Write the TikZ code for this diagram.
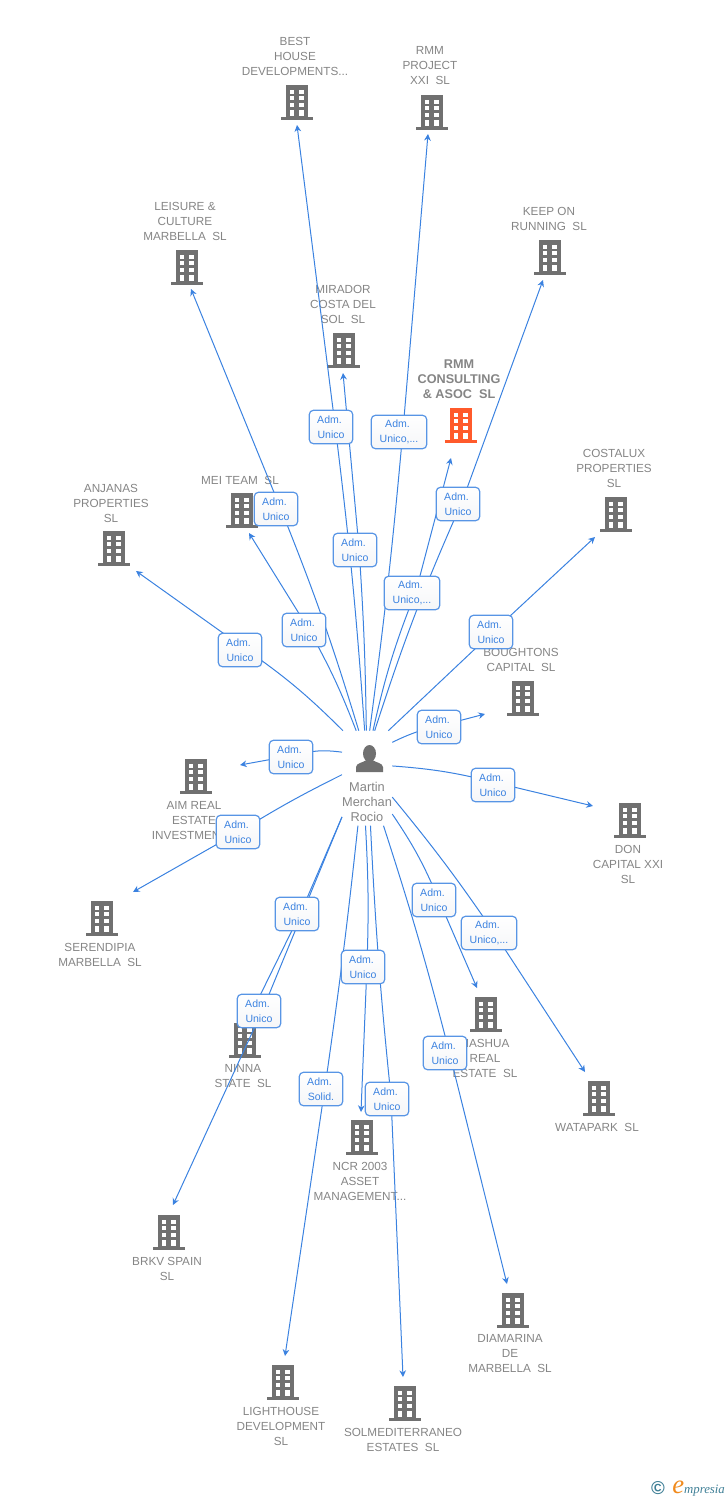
\documentclass[tikz,border=0pt]{standalone}
\usepackage{fontspec}
\setmainfont{Liberation Sans}
\newfontfamily\logofont{Liberation Serif}
\usetikzlibrary{calc, arrows.meta}

\pgfdeclarelayer{front}
\pgfsetlayers{main,front}

\definecolor{C0}{HTML}{3B82E0}
\definecolor{C1}{HTML}{707070}
\definecolor{C2}{HTML}{858585}
\definecolor{C3}{HTML}{FF5A2B}
\definecolor{C4}{HTML}{3F7F96}
\definecolor{C5}{HTML}{F08A1D}
\definecolor{C6}{HTML}{F5F6F8}

\newcommand{\admrole}[1]{Adm.\rule{2.2pt}{0pt}\\#1}

\tikzset{
    clabel/.style={text=C2, font=\fontsize{8.8pt}{11.25pt}\selectfont, align=center, inner sep=0pt},
    adm/.style={draw=C0!85!white, top color=white, bottom color=C6, rounded corners=3pt, text=C0, line width=0.9pt, font=\fontsize{7.9pt}{11.25pt}\selectfont, align=center, minimum width=32.5pt, minimum height=25pt, inner sep=0pt},
    admw/.style={adm, minimum width=41.5pt},
    link/.style={draw=C0, line width=0.75pt, -{Stealth[length=5pt, width=5pt]}},
    building/.pic={
        \path[pic actions] (-11,-17) rectangle (11,15);
        \path[pic actions] (-16,15) rectangle (16,17.5);
        \foreach \cx in {-7.2,2.2} {
            \foreach \cy in {-12.3,-5.7,1} {
                \fill[white] (\cx,\cy) rectangle ++(4.6,4);
            }
            \fill[white] (\cx,7.7) rectangle ++(4.6,6.6);
        }
    },
    person/.pic={
        \path[pic actions] (0,-5.5) ellipse (6.5 and 8.5);
        \path[pic actions] (-13.5,13) -- (-13.5,8) .. controls (-13.5,4) and (-6,3.5) .. (-3,1) -- (3,1) .. controls (6,3.5) and (13.5,4) .. (13.5,8) -- (13.5,13) -- cycle;
    },
}

\begin{document}
\begin{tikzpicture}[x=0.75pt, y=-0.75pt]
    \useasboundingbox (0,0) rectangle (728,1500);

    % buildings
    \pic[fill=C1] at (297,102) {building};
    \pic[fill=C1] at (432,112) {building};
    \pic[fill=C1] at (550,257) {building};
    \pic[fill=C1] at (187,267) {building};
    \pic[fill=C1] at (344,350) {building};
    \pic[fill=C3] at (461,425) {building};
    \pic[fill=C1] at (616,514) {building};
    \pic[fill=C1] at (242,510) {building};
    \pic[fill=C1] at (114,548) {building};
    \pic[fill=C1] at (523,698) {building};
    \pic[fill=C1] at (196,776) {building};
    \pic[fill=C1] at (630,820) {building};
    \pic[fill=C1] at (102,918) {building};
    \pic[fill=C1] at (245,1040) {building};
    \pic[fill=C1] at (486,1014) {building};
    \pic[fill=C1] at (599,1098) {building};
    \pic[fill=C1] at (362,1137) {building};
    \pic[fill=C1] at (169,1232) {building};
    \pic[fill=C1] at (513,1310) {building};
    \pic[fill=C1] at (283,1382) {building};
    \pic[fill=C1] at (405,1403) {building};

    % company names
    \node[clabel] (best) at (295,56) {BEST\\HOUSE\\DEVELOPMENTS...};
    \node[clabel] (rmmxxi) at (430,66) {RMM\\PROJECT\\XXI\ \ SL};
    \node[clabel] (keepon) at (549,218.5) {KEEP ON\\RUNNING\ \ SL};
    \node[clabel] (leisure) at (185,221) {LEISURE \&\\CULTURE\\MARBELLA\ \ SL};
    \node[clabel] (mirador) at (343,304) {MIRADOR\\COSTA DEL\\SOL\ \ SL};
    \node[clabel, font=\fontsize{9.5pt}{11.25pt}\selectfont\bfseries] (rmmcons) at (459,379) {RMM\\CONSULTING\\\&\ ASOC\ \ SL};
    \node[clabel] (costalux) at (614,468) {COSTALUX\\PROPERTIES\\SL};
    \node[clabel] (mei) at (240,480) {MEI TEAM\ \ SL};
    \node[clabel] (anjanas) at (111,503) {ANJANAS\\PROPERTIES\\SL};
    \node[clabel] (boughtons) at (521,659.5) {BOUGHTONS\\CAPITAL\ \ SL};
    \node[clabel] (aim) at (194,821) {AIM REAL\\ESTATE\\INVESTMENT...};
    \node[clabel] (don) at (628,864) {DON\\CAPITAL XXI\\SL};
    \node[clabel] (serendipia) at (100,954.5) {SERENDIPIA\\MARBELLA\ \ SL};
    \node[clabel] (ninna) at (243,1076.5) {NINNA\\STATE\ \ SL};
    \node[clabel] (nashua) at (485,1058) {NASHUA\\REAL\\ESTATE\ \ SL};
    \node[clabel] (watapark) at (597,1127) {WATAPARK\ \ SL};
    \node[clabel] (ncr) at (360,1181) {NCR 2003\\ASSET\\MANAGEMENT...};
    \node[clabel] (brkv) at (167,1268.5) {BRKV SPAIN\\SL};
    \node[clabel] (diamarina) at (510,1354) {DIAMARINA\\DE\\MARBELLA\ \ SL};
    \node[clabel] (lighthouse) at (281,1426) {LIGHTHOUSE\\DEVELOPMENT\\SL};
    \node[clabel] (solmed) at (403,1439.5) {SOLMEDITERRANEO\\ESTATES\ \ SL};

    % the person in the middle
    \pic[fill=C1] at (369.5,759) {person};
    \node[clabel, font=\fontsize{9.6pt}{11.25pt}\selectfont] (name) at (367,802) {Martin\\Merchan\\Rocio};
    \node[minimum width=37.7pt, minimum height=71.25pt, inner sep=0pt, outer sep=0pt] (martin) at (367.15,778.2) {};

    % arrow ends
    \coordinate (t1) at (297,125);
    \coordinate (t2) at (428,134);
    \coordinate (t3) at (543,280);
    \coordinate (t4) at (191,289);
    \coordinate (t5) at (343,373);
    \coordinate (t6) at (451,458);
    \coordinate (t7) at (595,537);
    \coordinate (t8) at (249,533);
    \coordinate (t9) at (136,571);
    \coordinate (t10) at (485,714);
    \coordinate (t11) at (240,765);
    \coordinate (t12) at (593,806);
    \coordinate (t13) at (133,892);
    \coordinate (t14) at (249,1018);
    \coordinate (t15) at (477,988);
    \coordinate (t16) at (585,1072);
    \coordinate (t17) at (361,1112);
    \coordinate (t18) at (173,1205);
    \coordinate (t19) at (507,1284);
    \coordinate (t20) at (285,1356);
    \coordinate (t21) at (403,1377);

    % role boxes
    \begin{pgfonlayer}{front}
        \node[adm] (a1) at (331,427) {\admrole{Unico}};
        \node[admw] (a2) at (399,432) {\admrole{Unico,...}};
        \node[adm] (a3) at (458,504) {\admrole{Unico}};
        \node[adm] (a4) at (276,509) {\admrole{Unico}};
        \node[adm] (a5) at (355,550) {\admrole{Unico}};
        \node[admw] (a6) at (412,593) {\admrole{Unico,...}};
        \node[adm] (a7) at (491,632) {\admrole{Unico}};
        \node[adm] (a8) at (304,630) {\admrole{Unico}};
        \node[adm] (a9) at (240,650) {\admrole{Unico}};
        \node[adm] (a10) at (439,727) {\admrole{Unico}};
        \node[adm] (a11) at (291,757) {\admrole{Unico}};
        \node[adm] (a12) at (493,785) {\admrole{Unico}};
        \node[adm] (a13) at (238,832) {\admrole{Unico}};
        \node[adm] (a14) at (297,914) {\admrole{Unico}};
        \node[adm] (a15) at (434,900) {\admrole{Unico}};
        \node[admw] (a16) at (489,933) {\admrole{Unico,...}};
        \node[adm] (a17) at (363,967) {\admrole{Unico}};
        \node[adm] (a18) at (259,1011) {\admrole{Unico}};
        \node[adm] (a19) at (445,1053) {\admrole{Unico}};
        \node[adm] (a20) at (321,1089) {\admrole{Solid.}};
        \node[adm] (a21) at (387,1099) {\admrole{Unico}};
    \end{pgfonlayer}

    % links
    \path[link] (martin.93.8) to[bend right=1.5] ($ (a1) + (4,-2) $) -- (t1);
    \path[link] (martin.87.8) to[bend right=1.2] ($ (a2) + (4,-2) $) -- (t2);
    \path[link] (martin.81.8) to[bend left=3] ($ (a3) + (4,-2) $) -- (t3);
    \path[link] (martin.100.6) to[bend right=2.5] ($ (a4) + (4,-2) $) -- (t4);
    \path[link] (martin.91.7) to[bend right=1.5] ($ (a5) + (4,-2) $) -- (t5);
    \path[link] (martin.83.3) to[bend left=4.5] ($ (a6) + (4,-2) $) -- (t6);
    \path[link] (martin.66.6) -- ($ (a7) + (4,-2) $) -- (t7);
    \path[link] (martin.103.2) to[bend right=4] ($ (a8) + (4,-2) $) -- (t8);
    \path[link] (martin.117.9) to[bend right=5] ($ (a9) + (4,-2) $) -- (t9);
    \path[link] (martin.55.2) to[bend left=7] ($ (a10) + (4,-2) $) -- (t10);
    \path[link] (martin.134.2) to[bend right=11] ($ (a11) + (4,-2) $) -- (t11);
    \path[link] (martin.26.4) to[bend left=5] ($ (a12) + (4,-2) $) -- (t12);
    \path[link] (martin.172.7) to[bend right=2.5] ($ (a13) + (4,-2) $) -- (t13);
    \path[link] (martin.237.1) -- ($ (a14) + (4,-2) $) -- (t14);
    \path[link] (martin.-55.7) to[bend left=5.5] ($ (a15) + (4,-2) $) -- (t15);
    \path[link] (martin.-37.2) to[bend left=2.5] ($ (a16) + (4,-2) $) -- (t16);
    \path[link] (martin.268.6) to[bend left=2.5] ($ (a17) + (4,-2) $) -- (t17);
    \path[link] (martin.237.1) -- ($ (a18) + (4,-2) $) -- (t18);
    \path[link] (martin.289.9) to[bend left=1.7] ($ (a19) + (4,-2) $) -- (t19);
    \path[link] (martin.259.4) to[bend left=1] ($ (a20) + (4,-2) $) -- (t20);
    \path[link] (martin.274.3) to[bend right=1.5] ($ (a21) + (4,-2) $) -- (t21);

    % logo
    \node[text=C4, font=\fontsize{14pt}{14pt}\selectfont\bfseries, inner sep=0pt] (copy) at (658,1488) {\copyright};
    \node[text=C4, anchor=base west, inner sep=0pt, font=\logofont\fontsize{9.6pt}{10pt}\selectfont\itshape] (logo) at (672,1493) {\textcolor{C5}{\fontsize{20pt}{20pt}\selectfont e}mpresia};
\end{tikzpicture}
\end{document}
